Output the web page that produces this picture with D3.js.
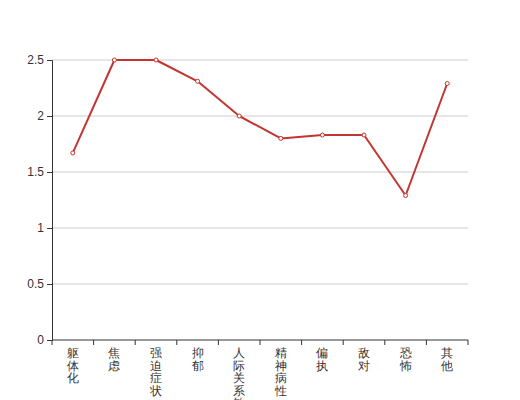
<!DOCTYPE html>
<html>
<head>
<meta charset="utf-8">
<script src="https://cdn.jsdelivr.net/npm/d3@7"></script>
<style>
  body { margin: 0; background: #fff; }
  svg { font-family: sans-serif; }
</style>
</head>
<body>
<svg id="chart" width="520" height="400"></svg>
<script>
let categories = ["躯体化", "焦虑", "强迫症状", "抑郁", "人际关系敏感", "精神病性", "偏执", "敌对", "恐怖", "其他"];
let scores = [1.67, 2.5, 2.5, 2.31, 2.0, 1.8, 1.83, 1.83, 1.29, 2.29];
let yTicks = [0, 0.5, 1, 1.5, 2, 2.5];

function drawChart() {
  let svg = d3.select("#chart"),
      margin = {top: 60, right: 52, bottom: 60, left: 52},
      width = +svg.attr("width") - margin.left - margin.right,
      height = +svg.attr("height") - margin.top - margin.bottom;

  let x = d3.scaleBand().domain(categories).range([0, width]),
      y = d3.scaleLinear().domain([0, 2.5]).range([height, 0]);

  let g = svg.append("g").attr("transform", "translate(" + margin.left + "," + margin.top + ")");

  // grid lines
  g.append("g")
    .selectAll("line")
    .data(yTicks.filter(d => d > 0))
    .enter().append("line")
    .attr("x1", 0).attr("x2", width)
    .attr("y1", d => y(d)).attr("y2", d => y(d))
    .attr("stroke", "#ccc");

  // y axis
  let yAxis = g.append("g")
    .call(d3.axisLeft(y).tickValues(yTicks).tickSize(5).tickPadding(3).tickFormat(d => d));
  yAxis.select(".domain").attr("stroke", "#333");
  yAxis.selectAll(".tick line").attr("stroke", "#333");
  yAxis.selectAll("text").attr("fill", "#333").style("font-size", "12px");

  // x axis
  let xAxis = g.append("g").attr("transform", "translate(0," + height + ")");
  xAxis.append("line")
    .attr("x1", 0).attr("x2", width)
    .attr("stroke", "#333");
  xAxis.selectAll(".xtick")
    .data(d3.range(categories.length + 1))
    .enter().append("line")
    .attr("x1", i => i * x.step()).attr("x2", i => i * x.step())
    .attr("y1", 0).attr("y2", 5)
    .attr("stroke", "#333");

  let labels = xAxis.selectAll(".xlabel")
    .data(categories)
    .enter().append("text")
    .attr("class", "xlabel")
    .attr("text-anchor", "middle")
    .attr("fill", "#333")
    .style("font-size", "12px");
  labels.selectAll("tspan")
    .data(d => d.split("").map(c => ({c: c, cat: d})))
    .enter().append("tspan")
    .attr("x", d => x(d.cat) + x.bandwidth() / 2)
    .attr("y", (d, i) => 17 + i * 12.5)
    .text(d => d.c);

  // line
  let line = d3.line()
    .x((d, i) => x(categories[i]) + x.bandwidth() / 2)
    .y(d => y(d));

  g.append("path")
    .datum(scores)
    .attr("d", line)
    .attr("fill", "none")
    .attr("stroke", "#c23531")
    .attr("stroke-width", 2)
    .attr("stroke-linejoin", "round");

  g.selectAll(".dot")
    .data(scores)
    .enter().append("circle")
    .attr("cx", (d, i) => x(categories[i]) + x.bandwidth() / 2)
    .attr("cy", d => y(d))
    .attr("r", 2)
    .attr("fill", "#fff")
    .attr("stroke", "#c23531")
    .attr("stroke-width", 1);
}

drawChart();
</script>
</body>
</html>
